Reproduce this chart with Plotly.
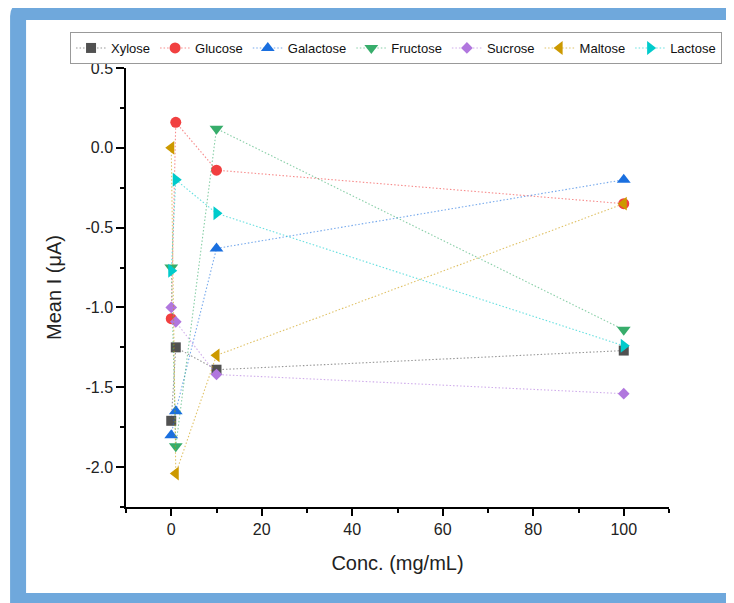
import plotly.graph_objects as go

conc = [0, 1, 10, 100]
series_names = ["Xylose", "Glucose", "Galactose", "Fructose", "Sucrose", "Maltose", "Lactose"]
xylose = [-1.71, -1.25, -1.39, -1.27]
glucose = [-1.07, 0.16, -0.14, -0.35]
galactose = [-1.80, -1.65, -0.63, -0.20]
fructose = [-0.75, -1.87, 0.12, -1.14]
sucrose = [-1.00, -1.09, -1.42, -1.54]
maltose = [0.00, -2.04, -1.30, -0.35]
lactose = [-0.77, -0.20, -0.41, -1.24]
values = [xylose, glucose, galactose, fructose, sucrose, maltose, lactose]

colors = ["#515151", "#F14040", "#1A6FDF", "#37AD6B", "#B177DE", "#CC9900", "#00CBCC"]
symbols = ["square", "circle", "triangle-up", "triangle-down", "diamond", "triangle-left", "triangle-right"]
sizes = [10, 11, 12, 12, 9, 12, 12]

def rgba(h, a):
    h = h.lstrip("#")
    return "rgba(%d,%d,%d,%.2f)" % (int(h[0:2], 16), int(h[2:4], 16), int(h[4:6], 16), a)

fig = go.Figure()
for name, ys, c, s, sz in zip(series_names, values, colors, symbols, sizes):
    fig.add_trace(go.Scatter(
        x=conc, y=ys, name=name, mode="lines+markers",
        line=dict(color=rgba(c, 0.6), width=1.1, dash="1.5px,2px"),
        marker=dict(color=c, symbol=s, size=sz, line=dict(width=0)),
    ))

# page body has an 8px margin; figure coordinates = screen coordinates - 8
OFF = 8
W, H = 734 - OFF, 603 - OFF
L, T = 126 - OFF, 68 - OFF
R = W - (669.4 - OFF)
B = H - (507 - OFF)
pw, ph = W - L - R, H - T - B

def px(x):
    return (x - OFF - L) / pw

def py(y):
    return (H - B - (y - OFF)) / ph

# outer blue frame with rounded top-left corner (screen coords)
r = 12
x0, y0, x1, y1 = 10, 4, 760, 640
path = (f"M {px(x0)},{py(y1)} L {px(x0)},{py(y0 + r)} Q {px(x0)},{py(y0)} {px(x0 + r)},{py(y0)} "
        f"L {px(x1)},{py(y0)} L {px(x1)},{py(y1)} Z")
shapes = [
    dict(type="path", xref="paper", yref="paper", path=path,
         fillcolor="#6FA8DC", line=dict(width=0), layer="below"),
    dict(type="rect", xref="paper", yref="paper", x0=px(26), x1=px(800), y0=py(593), y1=py(20),
         fillcolor="white", line=dict(width=0), layer="below"),
]

font_family = "Liberation Sans, Arial, sans-serif"
fig.update_layout(
    width=W, height=H,
    margin=dict(l=L, r=R, t=T, b=B, autoexpand=False),
    paper_bgcolor="white", plot_bgcolor="rgba(0,0,0,0)",
    font=dict(family=font_family, color="#222222", size=16),
    shapes=shapes,
    showlegend=True,
    legend=dict(orientation="h", x=px(70), xanchor="left", y=py(32), yanchor="top",
                bordercolor="#999999", borderwidth=1, bgcolor="white",
                font=dict(size=13, color="#111111"), itemwidth=30,
                tracegroupgap=0, traceorder="normal"),
    xaxis=dict(range=[-10, 110], tickvals=[0, 20, 40, 60, 80, 100], automargin=False,
               showgrid=False, zeroline=False, showline=True, linecolor="black", linewidth=1.5,
               ticks="outside", ticklen=7, tickwidth=1.5, tickcolor="black",
               tickfont=dict(size=16),
               minor=dict(tickvals=[-10, 10, 30, 50, 70, 90, 110], ticks="outside", ticklen=4,
                          tickwidth=1.5, tickcolor="black", showgrid=False),
               title=dict(text="Conc. (mg/mL)", font=dict(size=20), standoff=19)),
    yaxis=dict(range=[-2.25, 0.5], tickvals=[-2.0, -1.5, -1.0, -0.5, 0.0, 0.5], automargin=False,
               ticktext=["-2.0", "-1.5", "-1.0", "-0.5", "0.0", "0.5"],
               showgrid=False, zeroline=False, showline=True, linecolor="black", linewidth=1.5,
               ticks="outside", ticklen=8, tickwidth=1.5, tickcolor="black",
               tickfont=dict(size=16),
               minor=dict(tickvals=[-2.25, -1.75, -1.25, -0.75, -0.25, 0.25], ticks="outside",
                          ticklen=4, tickwidth=1.5, tickcolor="black", showgrid=False),
               title=dict(text="Mean I (μA)", font=dict(size=20), standoff=18)),
)

fig.write_html("out.html")
